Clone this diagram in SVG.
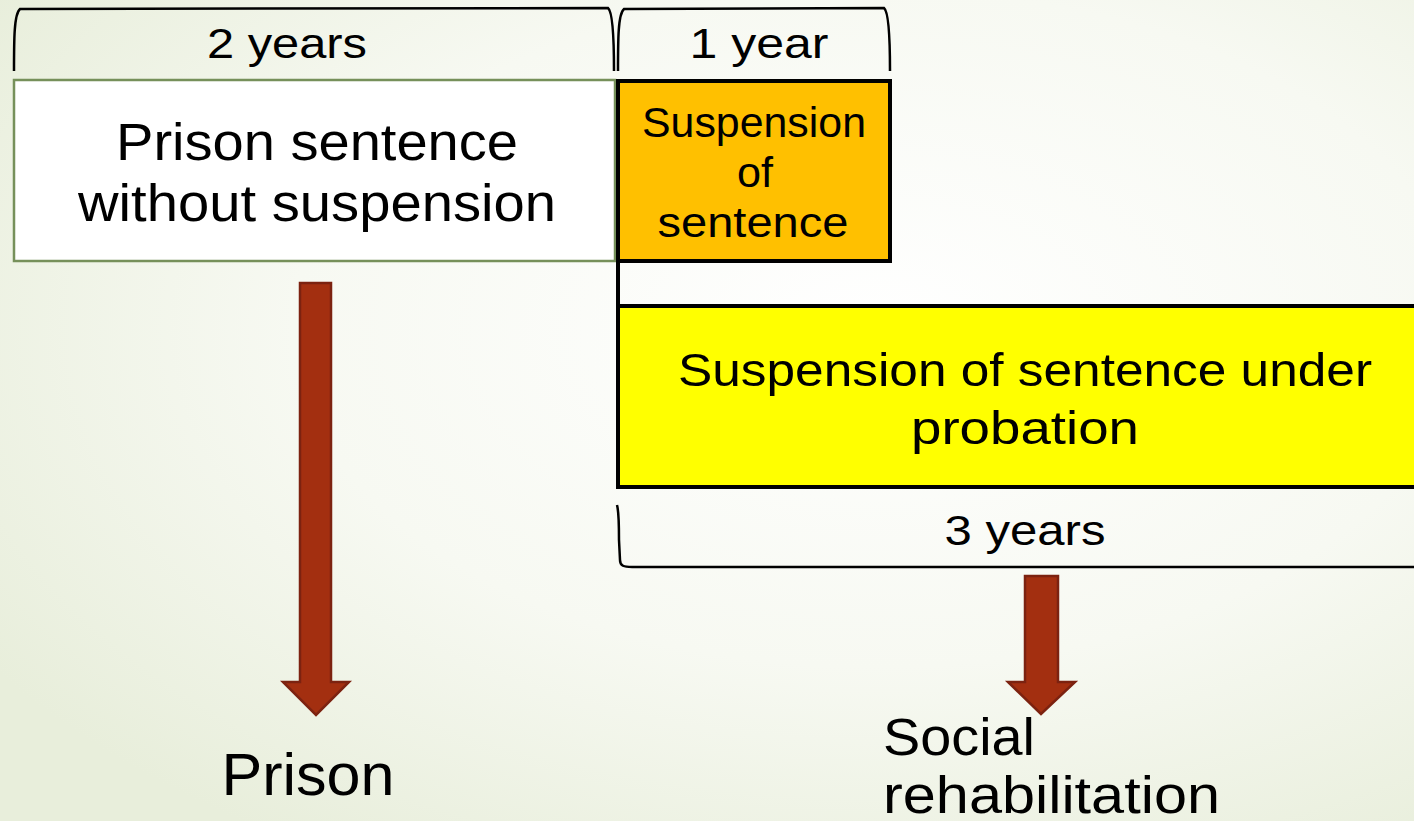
<svg xmlns="http://www.w3.org/2000/svg" width="1414" height="821" viewBox="0 0 1414 821">
<defs>
<radialGradient id="bg" cx="0.62" cy="0.4" r="0.75">
<stop offset="0" stop-color="#ffffff"/>
<stop offset="0.55" stop-color="#f7f9f2"/>
<stop offset="1" stop-color="#e8eedb"/>
</radialGradient>
<style>
.t{font-family:"Liberation Sans",Arial,sans-serif;fill:#000;text-anchor:middle}
.br{fill:none;stroke:#000;stroke-width:2.5}
.arr{fill:#a32f10;stroke:#7c2210;stroke-width:2.5;stroke-linejoin:miter}
</style>
</defs>
<rect x="0" y="0" width="1414" height="821" fill="url(#bg)"/>
<g id="brackets">
<path class="br" d="M14,71 C14,40 14,14 20,9 L608,8 C613,12 614,40 614,71"/>
<path class="br" d="M618,71 C618,40 618,14 624,9 L884,8 C889,12 890,40 890,71"/>
<path class="br" d="M617,505 C619,512 619,525 619,540 L620,560 C620,566 624,567 632,567 L1414,567"/>
</g>
<g id="labels">
<text class="t" x="287" y="58" font-size="42" textLength="160" lengthAdjust="spacingAndGlyphs">2 years</text>
<text class="t" x="759" y="58" font-size="42" textLength="139" lengthAdjust="spacingAndGlyphs">1 year</text>
<text class="t" x="1025" y="545" font-size="42" textLength="161" lengthAdjust="spacingAndGlyphs">3 years</text>
</g>
<g id="node-prison-sentence">
<rect x="14" y="80" width="601" height="181" fill="#ffffff" stroke="#76905a" stroke-width="2.5"/>
<text class="t" x="317" y="160" font-size="51" textLength="402" lengthAdjust="spacingAndGlyphs">Prison sentence</text>
<text class="t" x="317" y="221" font-size="51" textLength="478" lengthAdjust="spacingAndGlyphs">without suspension</text>
</g>
<g id="node-suspension">
<rect x="618" y="81" width="272" height="180" fill="#ffc000" stroke="#000" stroke-width="4"/>
<text class="t" x="754" y="137" font-size="42" textLength="224" lengthAdjust="spacingAndGlyphs">Suspension</text>
<text class="t" x="755" y="187" font-size="42" textLength="36" lengthAdjust="spacingAndGlyphs">of</text>
<text class="t" x="753" y="237" font-size="42" textLength="191" lengthAdjust="spacingAndGlyphs">sentence</text>
</g>
<g id="connector-line">
<line x1="618" y1="261" x2="618" y2="306" stroke="#000" stroke-width="4"/>
</g>
<g id="node-probation">
<rect x="618" y="306" width="800" height="181" fill="#ffff00" stroke="#000" stroke-width="4"/>
<text class="t" x="1025" y="386" font-size="46" textLength="694" lengthAdjust="spacingAndGlyphs">Suspension of sentence under</text>
<text class="t" x="1025" y="444" font-size="46" textLength="228" lengthAdjust="spacingAndGlyphs">probation</text>
</g>
<g id="connectors">
<path class="arr" d="M300,283 L331,283 L331,682 L349,682 L316,715 L283,682 L300,682 Z"/>
<path class="arr" d="M1025,576 L1058,576 L1058,682 L1075,682 L1041,714 L1008,682 L1025,682 Z"/>
</g>
<g id="node-prison">
<text class="t" x="308" y="795" font-size="60" textLength="173" lengthAdjust="spacingAndGlyphs">Prison</text>
</g>
<g id="node-social">
<text class="t" x="883" y="755" font-size="51" style="text-anchor:start" textLength="152" lengthAdjust="spacingAndGlyphs">Social</text>
<text class="t" x="883" y="813" font-size="51" style="text-anchor:start" textLength="337" lengthAdjust="spacingAndGlyphs">rehabilitation</text>
</g>
</svg>
